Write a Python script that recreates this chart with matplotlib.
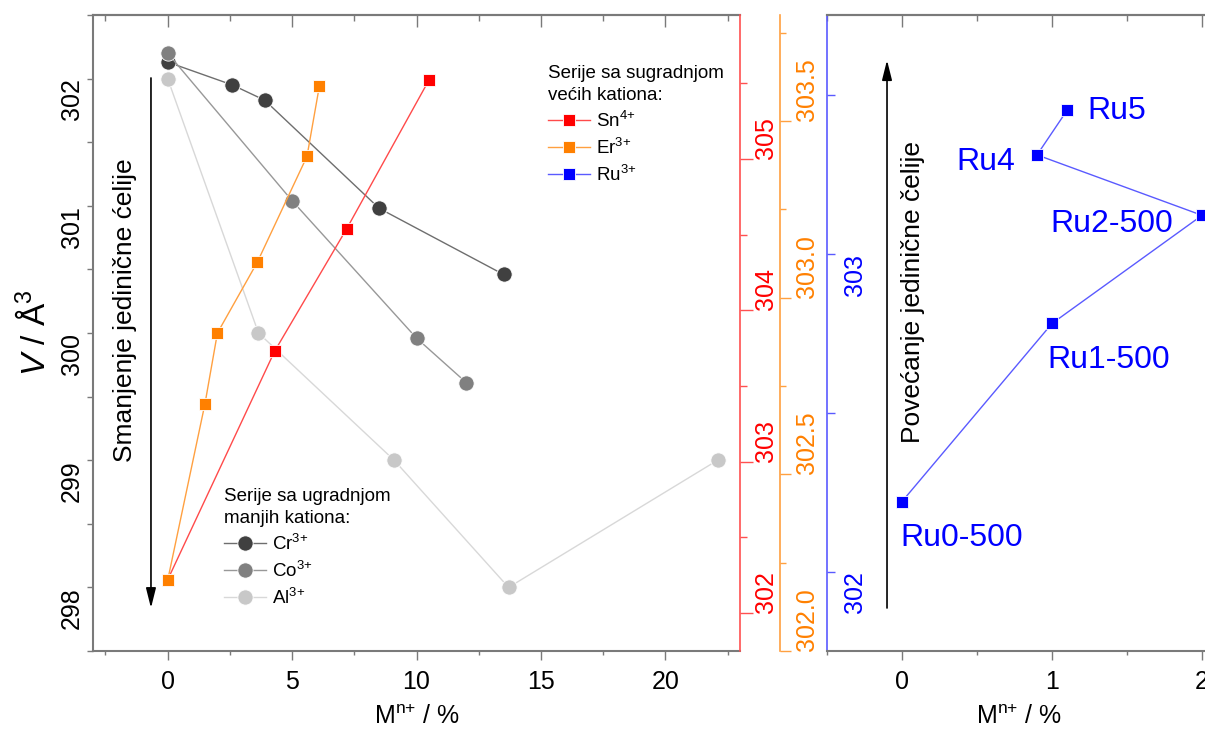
import numpy as np
import matplotlib.pyplot as plt
from matplotlib.ticker import MultipleLocator

plt.rcParams['font.family'] = ['Liberation Sans', 'DejaVu Sans']
plt.rcParams['mathtext.fontset'] = 'custom'
plt.rcParams['mathtext.rm'] = 'Liberation Sans'
plt.rcParams['mathtext.it'] = 'Liberation Sans:italic'
plt.rcParams['mathtext.default'] = 'rm'

# manji kationi (lijeva os, V / A^3)
cr_x = [0, 2.6, 3.9, 8.5, 13.5]
cr_v = [302.13, 301.95, 301.83, 300.98, 300.46]
co_x = [0, 5.0, 10.0, 12.0]
co_v = [302.20, 301.04, 299.96, 299.61]
al_x = [0, 3.65, 9.1, 13.7, 22.1]
al_v = [302.00, 300.00, 299.00, 298.00, 299.00]

# veci kationi (vlastite osi)
sn_x = [0, 4.3, 7.2, 10.5]
sn_v = [302.22, 303.73, 304.54, 305.52]
er_x = [0, 1.5, 2.0, 3.6, 5.6, 6.1]
er_v = [302.20, 302.70, 302.90, 303.10, 303.40, 303.60]

# Ru serija (desni panel)
ru_x = [0, 1, 2, 0.9, 1.1]
ru_v = [302.22, 302.78, 303.12, 303.31, 303.45]
ru_names = ['Ru0-500', 'Ru1-500', 'Ru2-500', 'Ru4', 'Ru5']

W, H = 1205, 729
GRAY = '#7a7a7a'
TS = 18


def box(l, t, r, b):
    return [l / W, 1 - b / H, (r - l) / W, (b - t) / H]


def rot_labels(ax, va):
    for t in ax.get_yticklabels():
        t.set_rotation(90)
        t.set_va(va)


def top_ticks(ax, major, minor):
    sec = ax.secondary_xaxis('top')
    sec.xaxis.set_major_locator(MultipleLocator(major))
    sec.xaxis.set_minor_locator(MultipleLocator(minor))
    sec.tick_params(which='both', direction='in', labeltop=False, color=GRAY, width=1)
    sec.tick_params(which='major', length=8.6)
    sec.tick_params(which='minor', length=4.3)
    sec.spines['top'].set_color(GRAY)
    sec.spines['top'].set_linewidth(1.5)


fig = plt.figure(figsize=(W / 100, H / 100), dpi=100)
ax1 = fig.add_axes(box(93, 15, 740, 651))
ax3 = fig.add_axes(box(827, 15, 1210, 651))

# --- lijevi panel ---
mk = dict(marker='o', markersize=11, mec='white', mew=0.6, lw=1)
h_cr, = ax1.plot(cr_x, cr_v, color='#6e6e6e', mfc='#404040', **mk)
h_co, = ax1.plot(co_x, co_v, color='#989898', mfc='#808080', **mk)
h_al, = ax1.plot(al_x, al_v, color='#d8d8d8', mfc='#c8c8c8', **mk)

ax1.set_xlim(-3, 23)
ax1.set_ylim(297.5, 302.5)
ax1.xaxis.set_major_locator(MultipleLocator(5))
ax1.xaxis.set_minor_locator(MultipleLocator(2.5))
ax1.yaxis.set_major_locator(MultipleLocator(1))
ax1.yaxis.set_minor_locator(MultipleLocator(0.5))
ax1.tick_params(which='both', direction='out', color=GRAY, width=1, labelsize=TS)
ax1.tick_params(axis='x', which='major', length=6.5, pad=7)
ax1.tick_params(axis='x', which='minor', length=3.2)
ax1.tick_params(axis='y', which='both', length=4.3, pad=2)
ax1.spines['right'].set_visible(False)
for s in ['left', 'top', 'bottom']:
    ax1.spines[s].set_color(GRAY)
    ax1.spines[s].set_linewidth(1.5)
rot_labels(ax1, 'top')
top_ticks(ax1, 5, 2.5)

ax1.set_xlabel('M$^{n{+}}$ / %', fontsize=18, labelpad=8)
ax1.set_ylabel('$\\it{V}$ / Å$^3$', fontsize=24)
ax1.yaxis.set_label_coords(-0.064, 0.5)

# Sn os (crvena)
axr = ax1.twinx()
sq = dict(marker='s', markersize=9, mec='white', mew=0.6, lw=1)
h_sn, = axr.plot(sn_x, sn_v, color='#ff4a4a', mfc='#ff0000', **sq)
axr.set_ylim(301.75, 305.95)
axr.yaxis.set_major_locator(MultipleLocator(1))
axr.yaxis.set_minor_locator(MultipleLocator(0.5))
axr.tick_params(axis='y', which='both', direction='out', color='#ff5050', labelcolor='#ff0000',
                labelsize=TS, pad=1, width=1)
axr.tick_params(axis='y', which='major', length=9.4)
axr.tick_params(axis='y', which='minor', length=5)
for s in ['left', 'top', 'bottom']:
    axr.spines[s].set_visible(False)
axr.spines['right'].set_color('#ff5050')
axr.spines['right'].set_linewidth(1.2)
rot_labels(axr, 'bottom')

# Er os (narandzasta)
axo = ax1.twinx()
h_er, = axo.plot(er_x, er_v, color='#ffa040', mfc='#ff8000', **sq)
axo.set_ylim(302.0, 303.8)
axo.yaxis.set_major_locator(MultipleLocator(0.5))
axo.yaxis.set_minor_locator(MultipleLocator(0.25))
axo.yaxis.set_major_formatter('{x:.1f}')
axo.spines['right'].set_position(('axes', 1 + 40 / 647))
axo.tick_params(axis='y', which='both', direction='out', color='#ffa040', labelcolor='#ff8000',
                labelsize=TS, pad=3, width=1)
axo.tick_params(axis='y', which='major', length=8)
axo.tick_params(axis='y', which='minor', length=4.3)
for s in ['left', 'top', 'bottom']:
    axo.spines[s].set_visible(False)
axo.spines['right'].set_color('#ffa040')
axo.spines['right'].set_linewidth(1.2)
rot_labels(axo, 'bottom')

# strelica lijevo
ax1.annotate('', xy=(0.0896, 0.0676), xytext=(0.0896, 0.901), xycoords='axes fraction',
             arrowprops=dict(arrowstyle='-|>,head_length=1.2,head_width=0.3', color='black',
                             lw=1.2, shrinkA=0, shrinkB=0))
ax1.text(0.049, 0.536, 'Smanjenje jedinične ćelije', transform=ax1.transAxes, rotation=90,
         ha='center', va='center', fontsize=19)

# --- desni panel ---
h_ru, = ax3.plot(ru_x, ru_v, color='#5a5aff', mfc='#0000ff', clip_on=False, **sq)
ax3.set_xlim(-0.5, 2.053)
ax3.set_ylim(301.75, 303.75)
ax3.xaxis.set_major_locator(MultipleLocator(1))
ax3.xaxis.set_minor_locator(MultipleLocator(0.5))
ax3.yaxis.set_major_locator(MultipleLocator(1))
ax3.yaxis.set_minor_locator(MultipleLocator(0.5))
ax3.tick_params(axis='x', which='both', direction='out', color=GRAY, width=1, labelsize=TS)
ax3.tick_params(axis='x', which='major', length=6.5, pad=7)
ax3.tick_params(axis='x', which='minor', length=3.2)
ax3.tick_params(axis='y', which='both', direction='in', color='#5a5aff', labelcolor='#0000ff',
                labelsize=TS, pad=-29, width=1, length=6)
ax3.spines['right'].set_visible(False)
for s in ['top', 'bottom']:
    ax3.spines[s].set_color(GRAY)
    ax3.spines[s].set_linewidth(1.5)
ax3.spines['left'].set_color('#5a5aff')
ax3.spines['left'].set_linewidth(1.2)
rot_labels(ax3, 'top')
top_ticks(ax3, 1, 0.5)
ax3.set_xlabel('M$^{n{+}}$ / %', fontsize=18, labelpad=8)

offs = [(-2, -36, 'left'), (-5, -37, 'left'), (-29, -9, 'right'), (-22, -7, 'right'), (20, -1, 'left')]
for x, v, name, (dx, dy, ha) in zip(ru_x, ru_v, ru_names, offs):
    ax3.annotate(name, (x, v), xytext=(dx, dy), textcoords='offset pixels', ha=ha, va='center',
                 color='#0000ff', fontsize=23, annotation_clip=False)

ax3.annotate('', xy=(0.1567, 0.929), xytext=(0.1567, 0.0676), xycoords='axes fraction',
             arrowprops=dict(arrowstyle='-|>,head_length=1.2,head_width=0.3', color='black',
                             lw=1.2, shrinkA=0, shrinkB=0))
ax3.text(0.2245, 0.564, 'Povećanje jedinične čelije', transform=ax3.transAxes, rotation=90,
         ha='center', va='center', fontsize=19)

# legende
leg_kw = dict(loc='upper left', frameon=False, fontsize=13.5, title_fontsize=13.5, alignment='left',
              handlelength=2.24, handletextpad=0.3, labelspacing=0.36, borderpad=0, borderaxespad=0)
leg1 = fig.legend(handles=[h_sn, h_er, h_ru], labels=['Sn$^{4{+}}$', 'Er$^{3{+}}$', 'Ru$^{3{+}}$'],
                  title='Serije sa sugradnjom\nvećih kationa:', bbox_to_anchor=(548 / W, 1 - 65 / H), **leg_kw)
leg2 = fig.legend(handles=[h_cr, h_co, h_al], labels=['Cr$^{3{+}}$', 'Co$^{3{+}}$', 'Al$^{3{+}}$'],
                  title='Serije sa ugradnjom\nmanjih kationa:', bbox_to_anchor=(224 / W, 1 - 488 / H), **leg_kw)
for lg in (leg1, leg2):
    lg.get_title().set_linespacing(1.4)

fig.savefig('out.png', dpi=100)
